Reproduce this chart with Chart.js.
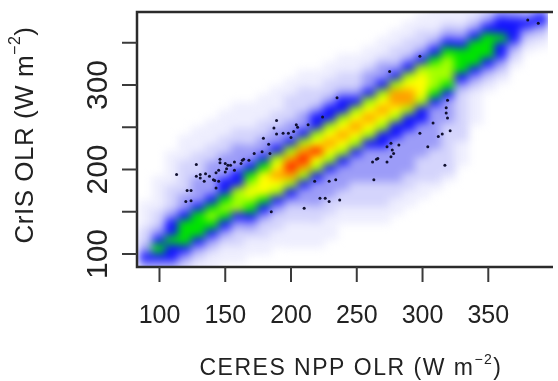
<!DOCTYPE html>
<html>
<head>
<meta charset="utf-8">
<script src="https://cdn.jsdelivr.net/npm/chart.js@4.4.0/dist/chart.umd.min.js"></script>
<style>
  html, body { margin: 0; padding: 0; background: #fff; }
  canvas { display: block; }
</style>
</head>
<body>
<canvas id="plot" width="558" height="381"></canvas>
<script>
// axis ticks
const xTicks = [100, 150, 200, 250, 300, 350]
const yTicks = [100, 150, 200, 250, 300, 350]
const yTickLabels = [100, 200, 300]

// smoothed density.
// each string = levels 0..9 from (centre - 130) up to (centre + 110), step 10
const bandX = [80, 90, 100, 110, 120, 130, 140, 150, 160, 170, 180, 190, 200, 210, 220, 230,
  240, 250, 260, 270, 280, 290, 300, 310, 320, 330, 340, 350, 360, 370, 380, 390]
const bandCenter = [88, 97, 107, 117, 126, 136, 145, 155, 165, 174, 184, 194, 203, 213, 222, 232,
  241, 251, 261, 271, 281, 291, 300, 310, 320, 329, 338, 347, 356, 365, 373, 378]
const bandLevels = [
  '0000000000012321100000000',
  '0000000000123432211100000',
  '0000000000234543221111000',
  '0000000012344544322211110',
  '0000000012345554332222111',
  '0000000112345554333222111',
  '0000000112345654333322111',
  '0000000112345654433322111',
  '0000001122346664433322111',
  '0000001123456765433221110',
  '0000011223457775433221110',
  '0000011223467876433221110',
  '0000111223468986433222110',
  '0001112233468986433222110',
  '0011122333467976443221100',
  '0011122333467876443221100',
  '0001122333467876443221100',
  '0011222333467876432211000',
  '0112223333467876433211000',
  '1122233334467876433211000',
  '1122333334467886432211000',
  '1122333334468876432211000',
  '1122233334467776432211000',
  '1222233333456665432111000',
  '1222222333456665432111000',
  '0111222222345554321100000',
  '0000011112345554321100000',
  '0000000012345554321000000',
  '0000000012344544321000000',
  '0000000001234443210000000',
  '0000000000123432100000000',
  '0000000000123432100000000'
]

// single points outside the dense core
const dotX = [380, 388, 298, 275, 235, 319, 318, 318, 319, 308, 298, 312, 315, 321, 304, 282, 276, 273,
  277, 266, 276, 278, 273, 263, 262, 265, 317, 226, 229, 234, 222, 210, 229, 237, 185, 218, 224, 189,
  187, 189, 179, 183, 198, 200, 205, 213, 204, 202, 194, 113, 128, 121, 124, 120, 124, 131, 135, 138,
  134, 141, 145, 143, 146, 150, 151, 157, 163, 172, 178, 146, 145, 152, 164, 168, 131, 142, 150, 157,
  184, 128, 143, 162, 154]
const dotY = [377, 373, 334, 316, 285, 282, 273, 267, 261, 255, 243, 239, 242, 246, 227, 229, 231, 227,
  223, 213, 215, 219, 209, 188, 209, 212, 205, 166, 186, 188, 166, 154, 162, 164, 150, 186, 262, 258,
  249, 242, 237, 230, 243, 238, 250, 253, 253, 245, 243, 194, 206, 175, 175, 162, 163, 194, 195, 192,
  186, 188, 186, 178, 208, 207, 201, 209, 211, 219, 221, 212, 199, 205, 212, 211, 190, 187, 197, 199,
  219, 192, 196, 207, 205]

const xTitle = [{ t: 'CERES NPP OLR (W m' }, { t: '\u22122', sup: true }, { t: ')' }]
const yTitle = [{ t: 'CrIS OLR (W m' }, { t: '\u22122', sup: true }, { t: ')' }]

const fontFamily = '"Liberation Sans", Arial, Helvetica, sans-serif'
const levelColors = ['', '#eeeefe', '#d4d4fc', '#9c9cf8', '#1414ff', '#00e400', '#a4ff00', '#ffff00', '#ffa000', '#ff1400']

function cellImage(color) {
  const c = document.createElement('canvas')
  c.width = 15
  c.height = 9
  const g = c.getContext('2d')
  g.fillStyle = color
  g.fillRect(0, 0, 15, 9)
  return c
}
const cellImages = levelColors.map(col => col ? cellImage(col) : null)

const cells = []
bandX.forEach((x, i) => {
  const row = bandLevels[i]
  for (let j = 0; j < row.length; j++) {
    const lv = Number(row[j])
    if (lv > 0) cells.push({ x: x, y: bandCenter[i] + (j - 13) * 10, level: lv })
  }
})
const dots = dotX.map((x, i) => ({ x: x, y: dotY[i] }))

// smooth the density cells like smoothScatter does
const blurPlugin = {
  id: 'densityBlur',
  afterDatasetDraw(chart, args) {
    if (args.index !== 1) return
    const c = chart.canvas, ctx = chart.ctx, a = chart.chartArea
    const tmp = document.createElement('canvas')
    tmp.width = c.width
    tmp.height = c.height
    tmp.getContext('2d').drawImage(c, 0, 0)
    ctx.save()
    ctx.setTransform(1, 0, 0, 1, 0, 0)
    ctx.clearRect(0, 0, c.width, c.height)
    ctx.beginPath()
    ctx.rect(a.left, a.top, a.right - a.left, a.bottom - a.top)
    ctx.clip()
    ctx.filter = 'blur(4px)'
    ctx.drawImage(tmp, 0, 0)
    ctx.restore()
  }
}

function drawTitle(ctx, parts, cx, cy, rot, size, spacing) {
  const supSize = Math.round(size * 0.6)
  ctx.save()
  ctx.translate(cx, cy)
  ctx.rotate(rot)
  ctx.textAlign = 'left'
  ctx.textBaseline = 'alphabetic'
  ctx.letterSpacing = spacing + 'px'
  let w = 0
  parts.forEach(p => {
    ctx.font = (p.sup ? supSize : size) + 'px ' + fontFamily
    w += ctx.measureText(p.t).width
  })
  let x = -w / 2
  parts.forEach(p => {
    ctx.font = (p.sup ? supSize : size) + 'px ' + fontFamily
    ctx.fillText(p.t, x, p.sup ? -size * 0.5 : 0)
    x += ctx.measureText(p.t).width
  })
  ctx.restore()
}

// R style box, ticks and labels
const axesPlugin = {
  id: 'rAxes',
  afterDraw(chart) {
    const ctx = chart.ctx, a = chart.chartArea
    const xs = chart.scales.x, ys = chart.scales.y
    ctx.save()
    ctx.strokeStyle = '#2b2b2b'
    ctx.lineWidth = 2.5
    ctx.beginPath()
    ctx.moveTo(a.right + 5, a.top)
    ctx.lineTo(a.left, a.top)
    ctx.lineTo(a.left, a.bottom)
    ctx.lineTo(a.right + 5, a.bottom)
    ctx.stroke()

    ctx.strokeStyle = '#3a3a3a'
    ctx.lineWidth = 2
    xTicks.forEach(v => {
      const px = xs.getPixelForValue(v)
      ctx.beginPath()
      ctx.moveTo(px, a.bottom)
      ctx.lineTo(px, a.bottom + 15)
      ctx.stroke()
    })
    yTicks.forEach(v => {
      const py = ys.getPixelForValue(v)
      ctx.beginPath()
      ctx.moveTo(a.left, py)
      ctx.lineTo(a.left - 15, py)
      ctx.stroke()
    })

    ctx.fillStyle = '#222'
    ctx.textAlign = 'center'
    ctx.textBaseline = 'alphabetic'
    ctx.font = '25px ' + fontFamily
    xTicks.forEach(v => ctx.fillText(String(v), xs.getPixelForValue(v), 323))
    ctx.font = '30px ' + fontFamily
    yTickLabels.forEach(v => {
      ctx.save()
      ctx.translate(107, ys.getPixelForValue(v))
      ctx.rotate(-Math.PI / 2)
      ctx.fillText(String(v), 0, 0)
      ctx.restore()
    })

    drawTitle(ctx, xTitle, 351, 375, 0, 23, 1.5)
    drawTitle(ctx, yTitle, 33, 135, -Math.PI / 2, 26, 0.5)
    ctx.restore()
  }
}

new Chart(document.getElementById('plot'), {
  type: 'scatter',
  data: {
    datasets: [
      {
        label: 'points',
        data: dots,
        pointRadius: 1.5,
        pointHoverRadius: 1.5,
        pointBackgroundColor: '#101030',
        pointBorderWidth: 0
      },
      {
        label: 'density',
        data: cells,
        clip: false,
        pointRadius: 10,
        pointHoverRadius: 10,
        pointBorderWidth: 0,
        pointStyle: c => (c.raw ? cellImages[c.raw.level] : 'rect')
      }
    ]
  },
  options: {
    responsive: false,
    animation: false,
    events: [],
    layout: { padding: { left: 137, top: 12, right: 0, bottom: 114 } },
    scales: {
      x: { type: 'linear', min: 82.9, max: 395.4, display: false },
      y: { type: 'linear', min: 84.6, max: 386.4, display: false }
    },
    plugins: { legend: { display: false }, tooltip: { enabled: false } }
  },
  plugins: [blurPlugin, axesPlugin]
})
</script>
</body>
</html>
